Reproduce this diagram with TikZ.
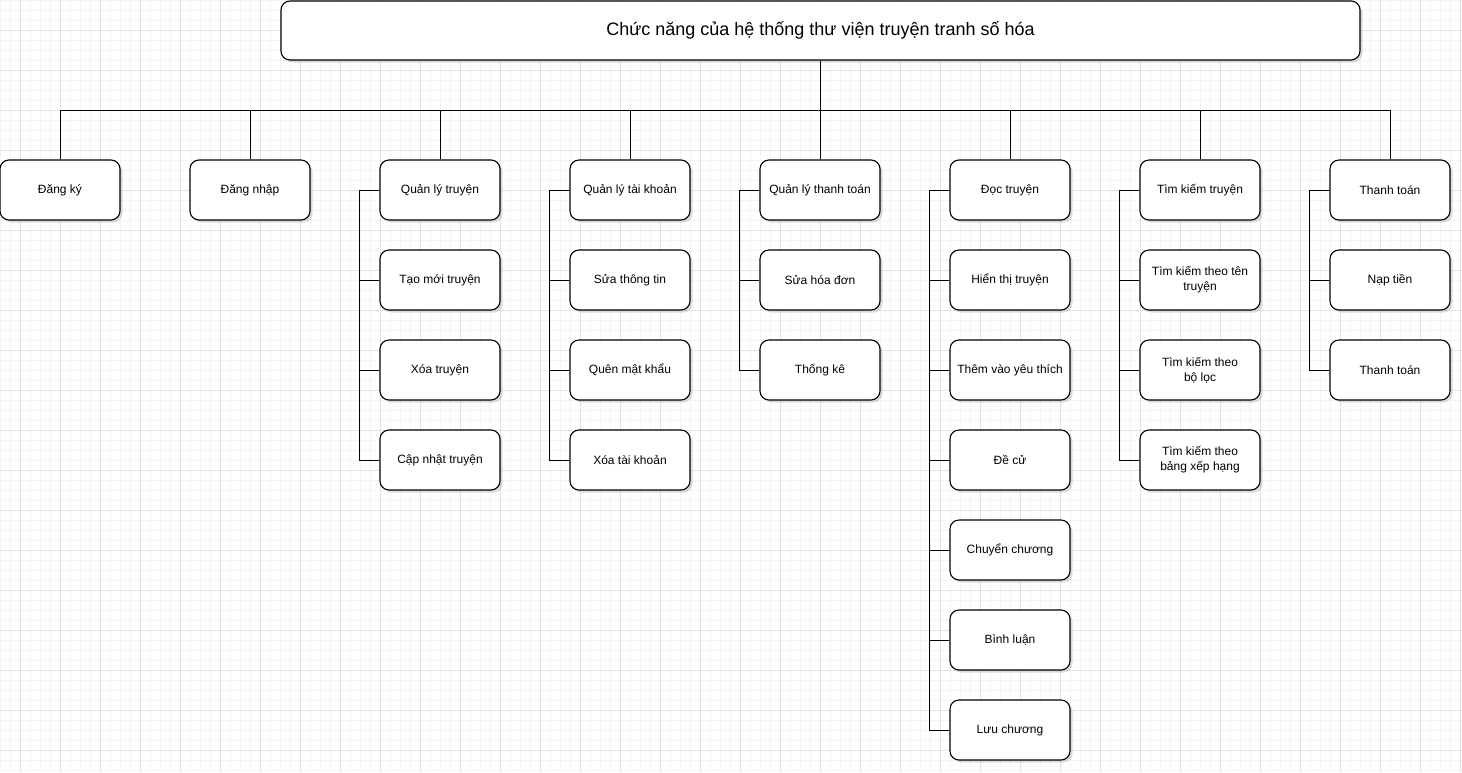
\documentclass[tikz,border=0pt]{standalone}
\usepackage{fontspec}
\setmainfont{Liberation Sans}
\usetikzlibrary{shadows}
\definecolor{gridminor}{RGB}{244,244,244}
\definecolor{gridmajor}{RGB}{226,226,226}
\definecolor{shadowc}{RGB}{150,150,170}
\tikzset{
  fbox/.style={draw=black, line width=1.1pt, fill=white, rounded corners=9pt,
    minimum width=120pt, minimum height=60pt, inner sep=2pt, align=center,
    font=\fontsize{12}{15}\selectfont,
    drop shadow={shadow xshift=2.5pt, shadow yshift=-2.5pt, opacity=0.35, fill=shadowc}},
  link/.style={draw=black, line width=0.9pt},
}
\begin{document}
\begin{tikzpicture}[x=1pt,y=-1pt]
\useasboundingbox (0,0) rectangle (1462,772);
% grid
\foreach \i in {0,10,...,1460} {\draw[gridminor, line width=0.8pt] (\i,0) -- (\i,772);}
\foreach \j in {0,10,...,770} {\draw[gridminor, line width=0.8pt] (0,\j) -- (1462,\j);}
\foreach \i in {20,60,...,1460} {\draw[gridmajor, line width=0.8pt] (\i,0) -- (\i,772);}
\foreach \j in {30,70,...,770} {\draw[gridmajor, line width=0.8pt] (0,\j) -- (1462,\j);}

% top
\node[fbox, minimum width=1079pt, minimum height=59pt, font=\fontsize{18}{22}\selectfont] (top) at (820.5,30.5) {Chức năng của hệ thống thư viện truyện tranh số hóa};

% level 1
\node[fbox] (c1) at (60,190) {Đăng ký};
\node[fbox] (c2) at (250,190) {Đăng nhập};
\node[fbox] (c3) at (440,190) {Quản lý truyện};
\node[fbox] (c4) at (630,190) {Quản lý tài khoản};
\node[fbox] (c5) at (820,190) {Quản lý thanh toán};
\node[fbox] (c6) at (1010,190) {Đọc truyện};
\node[fbox] (c7) at (1200,190) {Tìm kiếm truyện};
\node[fbox] (c8) at (1390,190) {Thanh toán};

% column 3
\node[fbox] (c3a) at (440,280) {Tạo mới truyện};
\node[fbox] (c3b) at (440,370) {Xóa truyện};
\node[fbox] (c3c) at (440,460) {Cập nhật truyện};
% column 4
\node[fbox] (c4a) at (630,280) {Sửa thông tin};
\node[fbox] (c4b) at (630,370) {Quên mật khẩu};
\node[fbox] (c4c) at (630,460) {Xóa tài khoản};
% column 5
\node[fbox] (c5a) at (820,280) {Sửa hóa đơn};
\node[fbox] (c5b) at (820,370) {Thống kê};
% column 6
\node[fbox] (c6a) at (1010,280) {Hiển thị truyện};
\node[fbox] (c6b) at (1010,370) {Thêm vào yêu thích};
\node[fbox] (c6c) at (1010,460) {Đề cử};
\node[fbox] (c6d) at (1010,550) {Chuyển chương};
\node[fbox] (c6e) at (1010,640) {Bình luận};
\node[fbox] (c6f) at (1010,730) {Lưu chương};
% column 7
\node[fbox] (c7a) at (1200,280) {Tìm kiếm theo tên\\truyện};
\node[fbox] (c7b) at (1200,370) {Tìm kiếm theo\\bộ lọc};
\node[fbox] (c7c) at (1200,460) {Tìm kiếm theo\\bảng xếp hạng};
% column 8
\node[fbox] (c8a) at (1390,280) {Nạp tiền};
\node[fbox] (c8b) at (1390,370) {Thanh toán};

% bus
\coordinate (bus) at (820,110);
\draw[link] (top.south) -- (top.south |- bus);
\draw[link] (c1.north |- bus) -- (c8.north |- bus);
\foreach \n in {c1,c2,c3,c4,c5,c6,c7,c8} {\draw[link] (\n.north) -- (\n.north |- bus);}

% sub trees
\draw[link] (c3.west) -- ++(-20,0) coordinate (l3) |- (c3c.west);
\foreach \n in {c3a,c3b} {\draw[link] (\n.west) -- (\n.west -| l3);}
\draw[link] (c4.west) -- ++(-20,0) coordinate (l4) |- (c4c.west);
\foreach \n in {c4a,c4b} {\draw[link] (\n.west) -- (\n.west -| l4);}
\draw[link] (c5.west) -- ++(-20,0) coordinate (l5) |- (c5b.west);
\foreach \n in {c5a} {\draw[link] (\n.west) -- (\n.west -| l5);}
\draw[link] (c6.west) -- ++(-20,0) coordinate (l6) |- (c6f.west);
\foreach \n in {c6a,c6b,c6c,c6d,c6e} {\draw[link] (\n.west) -- (\n.west -| l6);}
\draw[link] (c7.west) -- ++(-20,0) coordinate (l7) |- (c7c.west);
\foreach \n in {c7a,c7b} {\draw[link] (\n.west) -- (\n.west -| l7);}
\draw[link] (c8.west) -- ++(-20,0) coordinate (l8) |- (c8b.west);
\foreach \n in {c8a} {\draw[link] (\n.west) -- (\n.west -| l8);}
\end{tikzpicture}
\end{document}
